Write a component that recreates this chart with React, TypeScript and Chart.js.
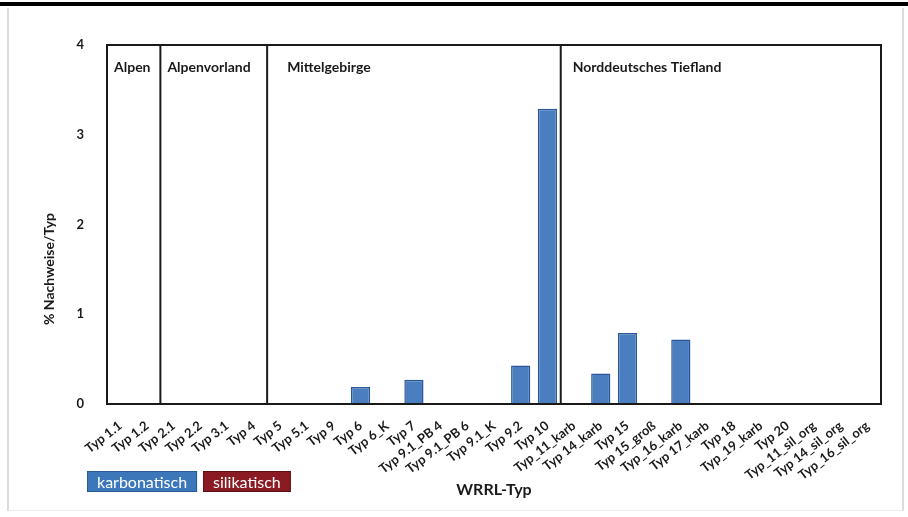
import React, { useEffect, useRef } from "react";
import { Chart, registerables } from "chart.js";

Chart.register(...registerables);

const categories = [
  "Typ 1.1", "Typ 1.2", "Typ 2.1", "Typ 2.2", "Typ 3.1", "Typ 4", "Typ 5", "Typ 5.1", "Typ 9",
  "Typ 6", "Typ 6_K", "Typ 7", "Typ 9.1_PB 4", "Typ 9.1_PB 6", "Typ 9.1_K", "Typ 9.2", "Typ 10",
  "Typ_11_karb", "Typ 14_karb", "Typ 15", "Typ 15_groß", "Typ_16_karb", "Typ 17_karb", "Typ 18",
  "Typ_19_karb", "Typ 20", "Typ_11_sil_org", "Typ 14_sil_org", "Typ_16_sil_org",
];

const karbonatisch = [
  0, 0, 0, 0, 0, 0, 0, 0, 0,
  0.19, 0, 0.27, 0, 0, 0, 0.43, 3.29,
  0, 0.34, 0.79, 0, 0.72, 0, 0,
  0, 0, 0, 0, 0,
];

const silikatisch: (number | null)[] = [];

const yTicks = [0, 1, 2, 3, 4];

const regionNames = ["Alpen", "Alpenvorland", "Mittelgebirge", "Norddeutsches Tiefland"];
const regionStarts = [0, 2, 6, 17];

const xTitle = "WRRL-Typ";
const yTitle = "% Nachweise/Typ";

const FONT = "Lato, 'Open Sans', sans-serif";

const decorPlugin = {
  id: "decor",
  beforeDraw(chart: any) {
    const ctx = chart.ctx;
    ctx.save();
    ctx.fillStyle = "#ffffff";
    ctx.fillRect(0, 0, chart.width, chart.height);
    ctx.fillStyle = "#000000";
    ctx.fillRect(0, 2, chart.width, 4);
    ctx.strokeStyle = "#dcdcdc";
    ctx.lineWidth = 2;
    ctx.beginPath();
    ctx.moveTo(8, 8);
    ctx.lineTo(8, 511);
    ctx.moveTo(903, 8);
    ctx.lineTo(903, 511);
    ctx.stroke();
    ctx.strokeStyle = "#ececec";
    ctx.lineWidth = 1;
    ctx.beginPath();
    ctx.moveTo(8, 510.5);
    ctx.lineTo(903, 510.5);
    ctx.stroke();
    ctx.restore();
  },
  afterDatasetsDraw(chart: any) {
    const ctx = chart.ctx;
    const { left, right, top, bottom } = chart.chartArea;
    const xs = chart.scales.x;
    ctx.save();
    ctx.strokeStyle = "#1a1a1a";
    ctx.lineWidth = 2;
    ctx.strokeRect(left, top, right - left, bottom - top);
    const half = (xs.getPixelForTick(1) - xs.getPixelForTick(0)) / 2;
    const pads = [7, 7, 20, 12];
    regionStarts.forEach((start, i) => {
      const x = xs.getPixelForTick(start) - half;
      if (i > 0) {
        ctx.beginPath();
        ctx.moveTo(x, top);
        ctx.lineTo(x, bottom);
        ctx.stroke();
      }
      ctx.fillStyle = "#1a1a1a";
      ctx.font = `bold 14px ${FONT}`;
      ctx.textAlign = "left";
      ctx.textBaseline = "middle";
      ctx.fillText(regionNames[i], x + pads[i], top + 22);
    });
    ctx.restore();
  },
  afterDraw(chart: any) {
    const ctx = chart.ctx;
    ctx.save();
    // legend
    ctx.font = `16px ${FONT}`;
    ctx.textBaseline = "middle";
    ctx.textAlign = "left";
    let x = 87;
    const y = 471;
    const h = 21;
    chart.data.datasets.forEach((ds: any) => {
      const w = ctx.measureText(ds.label).width + 20;
      ctx.fillStyle = ds.legendColor;
      ctx.fillRect(x, y, w, h);
      ctx.strokeStyle = ds.legendBorder;
      ctx.lineWidth = 1;
      ctx.strokeRect(x + 0.5, y + 0.5, w - 1, h - 1);
      ctx.fillStyle = "#ffffff";
      ctx.fillText(ds.label, x + 10, y + h / 2 + 1);
      x += w + 6;
    });
    // x title
    ctx.fillStyle = "#1a1a1a";
    ctx.font = `bold 16px ${FONT}`;
    ctx.textAlign = "center";
    ctx.fillText(xTitle, 494, 490);
    // y title
    ctx.translate(49, 269);
    ctx.rotate(-Math.PI / 2);
    ctx.font = `bold 14px ${FONT}`;
    ctx.fillText(yTitle, 0, 0);
    ctx.restore();
  },
};

export default function App() {
  const ref = useRef<HTMLCanvasElement>(null);
  useEffect(() => {
    if (!ref.current) return;
    const chart = new Chart(ref.current, {
      type: "bar",
      data: {
        labels: categories,
        datasets: [
          {
            label: "karbonatisch",
            data: karbonatisch,
            backgroundColor: "#4a7ebf",
            borderColor: "#2a579a",
            borderWidth: 1.5,
            barPercentage: 0.72,
            categoryPercentage: 1,
            legendColor: "#3c78b9",
            legendBorder: "#2a5a96",
          } as any,
          {
            label: "silikatisch",
            data: silikatisch,
            backgroundColor: "#8c1c24",
            borderColor: "#5e0f15",
            borderWidth: 1.5,
            barPercentage: 0.72,
            categoryPercentage: 1,
            legendColor: "#8a1b23",
            legendBorder: "#5e0f15",
          } as any,
        ],
      },
      options: {
        responsive: false,
        animation: false,
        layout: { padding: { left: 0, right: 27, top: 45, bottom: 0 } },
        plugins: { legend: { display: false }, tooltip: { enabled: false } },
        scales: {
          x: {
            stacked: true,
            grid: { display: false },
            border: { display: false },
            ticks: {
              autoSkip: false,
              minRotation: 38,
              maxRotation: 38,
              padding: 6,
              color: "#1a1a1a",
              font: { family: FONT, size: 13, weight: "bold" },
            },
            afterFit(scale: any) {
              scale.height = 113;
            },
          },
          y: {
            stacked: true,
            min: 0,
            max: 4,
            grid: { display: false },
            border: { display: false },
            afterBuildTicks(scale: any) {
              scale.ticks = yTicks.map((v) => ({ value: v }));
            },
            ticks: {
              padding: 15,
              color: "#1a1a1a",
              font: { family: FONT, size: 13, weight: "bold" },
            },
            afterFit(scale: any) {
              scale.width = 107;
            },
          },
        },
      },
      plugins: [decorPlugin],
    });
    return () => chart.destroy();
  }, []);
  return (
    <div style={{ position: "fixed", left: 0, top: 0, width: 908, height: 517, background: "#fff" }}>
      <canvas ref={ref} width={908} height={517} />
    </div>
  );
}
